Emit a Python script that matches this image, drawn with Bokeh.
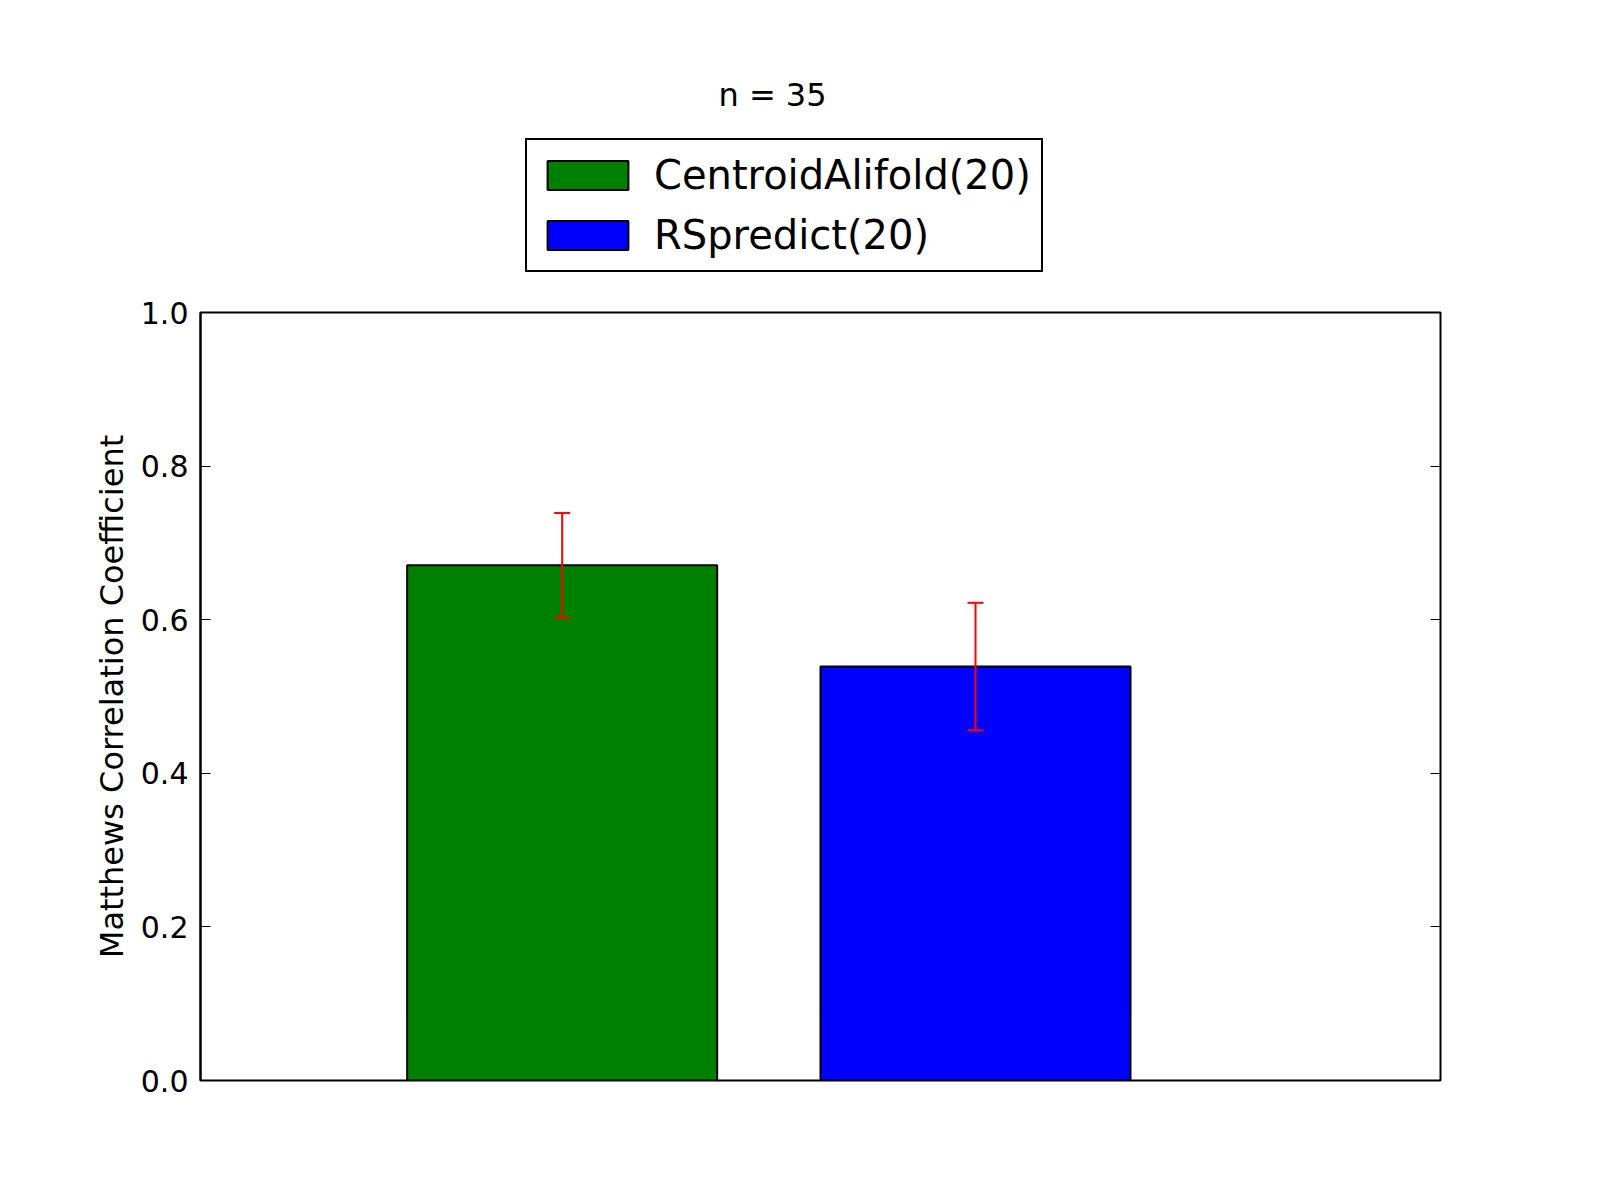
from bokeh.plotting import figure
from bokeh.layouts import column
from bokeh.models import (ColumnDataSource, Range1d, LinearAxis, FixedTicker, PrintfTickFormatter,
                          CustomJSTickFormatter, Whisker, TeeHead, Legend, LegendItem, Label)
from bokeh.embed import file_html
from bokeh.resources import INLINE

# ---- data ----
methods = ["CentroidAlifold(20)", "RSpredict(20)"]
mcc_values = [0.671, 0.539]
mcc_errors = [0.068, 0.083]
bar_colors = ["#008000", "#0000ff"]
positions = [0.5, 1.5]          # left edges of bars (x axis 0..3)
bar_width = 0.75
y_ticks = [0.0, 0.2, 0.4, 0.6, 0.8, 1.0]
title_text = "n = 35"
y_label = "Matthews Correlation Coefficient"

FONT = "DejaVu Sans"
W = 1584

centers = [p + bar_width / 2 for p in positions]
src = ColumnDataSource(dict(
    x=centers, top=mcc_values, color=bar_colors, name=methods,
    upper=[v + e for v, e in zip(mcc_values, mcc_errors)],
    lower=[v - e for v, e in zip(mcc_values, mcc_errors)],
))

# ---------- header figure: title + legend ----------
TOP_H = 292
ptop = figure(width=W, height=TOP_H, output_backend="svg", toolbar_location=None,
              title_location=None, x_axis_type=None, y_axis_type=None,
              x_range=Range1d(0, 3), y_range=Range1d(0, 1),
              min_border_left=200, min_border_right=144, min_border_top=0, min_border_bottom=0)
ptop.grid.visible = False
ptop.outline_line_color = None
ptop.background_fill_color = "white"
ptop.border_fill_color = "white"
# hidden proxy renderer that only supplies the legend swatches
rproxy = ptop.vbar(x="x", top="top", width=bar_width, bottom=0, source=src,
                   fill_color="color", line_color="black", line_width=2, visible=False)

legend = Legend(items=[LegendItem(label=methods[i], renderers=[rproxy], index=i) for i in range(len(methods))],
                location=(325, 20), orientation="vertical",
                label_text_font=FONT, label_text_font_size="40px", label_text_color="black",
                glyph_width=101, glyph_height=36, label_height=50, label_width=376,
                label_standoff=16, padding=10, margin=0, spacing=10,
                border_line_color="black", border_line_width=2, border_line_alpha=1,
                background_fill_color="white", background_fill_alpha=1,
                inactive_fill_alpha=0)
ptop.add_layout(legend)

title = Label(x=572, y=198, x_units="screen", y_units="screen", text=title_text,
              text_font=FONT, text_font_size="32px", text_align="center",
              text_baseline="alphabetic", text_color="black")
ptop.add_layout(title)

# ---------- main chart ----------
p = figure(width=W, height=892, output_backend="svg", toolbar_location=None,
           title_location=None, x_range=Range1d(0, 3), y_range=Range1d(0, 1),
           min_border_left=200, min_border_right=144, min_border_top=20, min_border_bottom=104)
p.background_fill_color = "white"
p.border_fill_color = "white"
p.grid.visible = False
p.xaxis.visible = False
p.outline_line_color = "black"
p.outline_line_width = 2
p.outline_line_alpha = 1

ya = p.yaxis[0]
ya.ticker = FixedTicker(ticks=y_ticks)
ya.formatter = PrintfTickFormatter(format="%.1f")
ya.major_tick_in = 10
ya.major_tick_out = 0
ya.major_tick_line_width = 1
ya.minor_tick_line_color = None
ya.axis_line_color = "black"
ya.axis_line_width = 2
ya.major_label_text_font = FONT
ya.major_label_text_font_size = "30px"
ya.major_label_text_color = "black"
ya.major_label_standoff = 12
ya.axis_label = y_label
ya.axis_label_text_font = FONT
ya.axis_label_text_font_size = "32px"
ya.axis_label_text_font_style = "normal"
ya.axis_label_text_color = "black"
ya.axis_label_standoff = 7

ra = LinearAxis(ticker=FixedTicker(ticks=y_ticks), formatter=CustomJSTickFormatter(code="return ''"))
ra.major_tick_in = 10
ra.major_tick_out = 0
ra.minor_tick_line_color = None
ra.axis_line_color = None
p.add_layout(ra, "right")

r = p.vbar(x="x", top="top", width=bar_width, bottom=0, source=src,
           fill_color="color", line_color="black", line_width=2)

w = Whisker(source=src, base="x", upper="upper", lower="lower", level="overlay",
            line_color="red", line_width=2,
            upper_head=TeeHead(size=16, line_color="red", line_width=2),
            lower_head=TeeHead(size=16, line_color="red", line_width=2))
p.add_layout(w)

layout = column(ptop, p, spacing=0)
open("out.html", "w").write(file_html(layout, INLINE))
